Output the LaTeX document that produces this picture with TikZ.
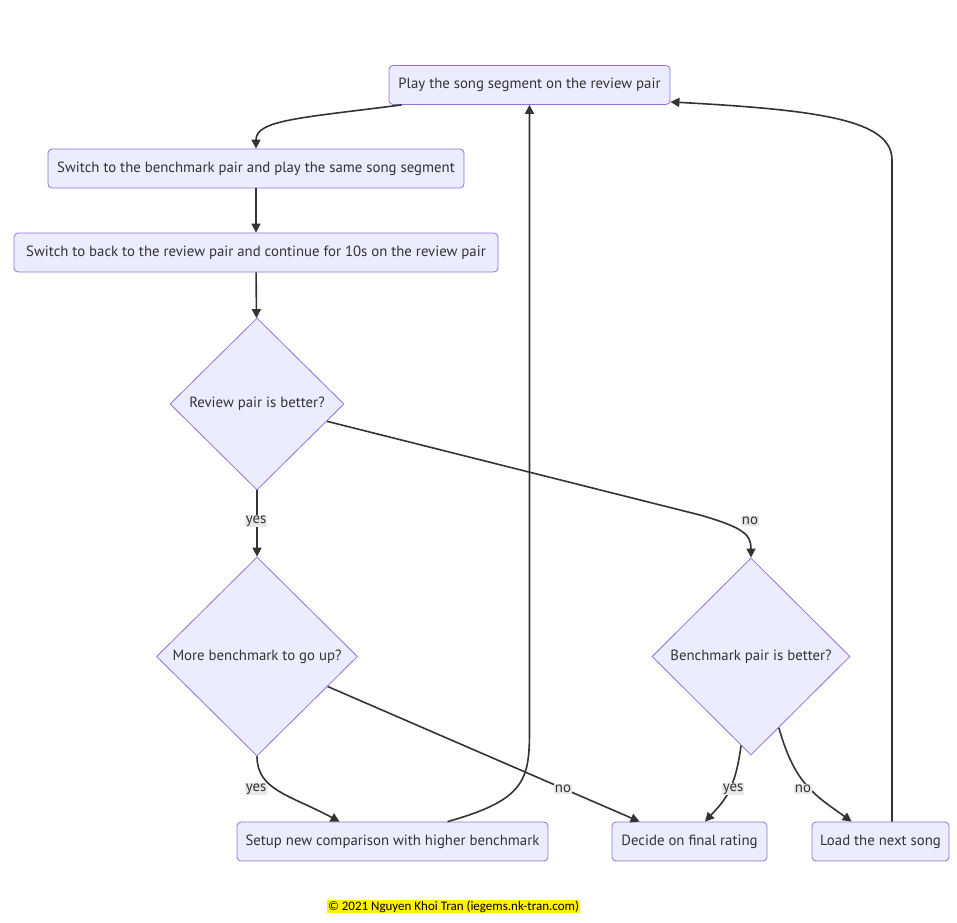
\documentclass[tikz,border=0pt]{standalone}
\usepackage{fontspec}
\setmainfont{PT Sans}
\newfontfamily\cfont{Carlito}
\usetikzlibrary{shapes.geometric,arrows.meta,calc}
\definecolor{mfill}{HTML}{ECECFF}
\definecolor{mline}{HTML}{9370DB}
\definecolor{edgec}{HTML}{333333}
\definecolor{lblbg}{HTML}{E8E8E8}
\definecolor{txt}{HTML}{333333}
\begin{document}
\begin{tikzpicture}[x=1pt,y=-1pt,
  every node/.style={font=\fontsize{14.8}{17}\selectfont, text=txt},
  box/.style={draw=mline, fill=mfill, line width=0.8pt, rounded corners=4pt, minimum height=39pt, inner sep=0pt},
  dia/.style={draw=mline, fill=mfill, line width=0.8pt, diamond, inner sep=0pt},
  arr/.style={draw=edgec, line width=1.6pt, -{Triangle[length=9pt,width=9pt]}},
  lbl/.style={fill=lblbg, inner sep=1pt}]
\useasboundingbox (0,0) rectangle (957,922);
\node[box, minimum width=281pt] (A) at (529.5,85) {Play the song segment on the review pair};
\node[box, minimum width=416pt] (B) at (256,168.5) {Switch to the benchmark pair and play the same song segment};
\node[box, minimum width=484pt] (C) at (256,252.5) {Switch to back to the review pair and continue for 10s on the review pair};
\node[dia, minimum width=174pt, minimum height=172pt] (D) at (257,404) {Review pair is better?};
\node[dia, minimum width=201pt, minimum height=199pt] (E) at (257,656.5) {More benchmark to go up?};
\node[dia, minimum width=198pt, minimum height=197pt] (F) at (751,656.5) {Benchmark pair is better?};
\node[box, minimum width=311pt] (G) at (392.5,841.5) {Setup new comparison with higher benchmark};
\node[box, minimum width=155pt] (H) at (689.5,841.5) {Decide on final rating};
\node[box, minimum width=137pt] (I) at (880.5,841.5) {Load the next song};
% edges
\draw[arr] ([xshift=13pt]A.south west) .. controls (300,118) and (256,120) .. (B.north);
\draw[arr] (B) -- (C);
\draw[arr] (C) -- (D);
\draw[arr] (D) -- (E);
\draw[arr] ($(D.east)!0.2!(D.south)$) -- (700,515) .. controls (745,528) and (751,535) .. (F.north);
\draw[arr] (E.south) .. controls (257,790) and (290,795) .. ([xshift=103pt]G.north west);
\draw[arr] ($(E.east)!0.3!(E.south)$) -- ([xshift=28pt]H.north west);
\draw[arr] ($(F.south)!0.1!(F.west)$) .. controls (735,790) and (725,800) .. ([xshift=15.5pt]H.north);
\draw[arr] ($(F.south)!0.28!(F.east)$) .. controls (795,785) and (815,795) .. ([xshift=40pt]I.north west);
\draw[arr] ([xshift=55pt]G.north) .. controls (525,800) and (529.5,780) .. (529.5,730) -- (A.south);
\draw[arr] ([xshift=11.5pt]I.north) -- (892,160) .. controls (892,120) and (820,110) .. ([yshift=3pt]A.south east);
% labels
\node[lbl] (l1) at (256,521) {yes};
\node[lbl] (l2) at (750,521) {no};
\node[lbl] (l3) at (256,789) {yes};
\node[lbl] (l4) at (563,789) {no};
\node[lbl] (l5) at (733,789) {yes};
\node[lbl] (l6) at (803,789) {no};
\node[fill=yellow, inner sep=1pt, text=black, font=\cfont\fontsize{13}{15}\selectfont] (cp) at (453.5,906.5) {© 2021 Nguyen Khoi Tran (iegems.nk-tran.com)};
\end{tikzpicture}
\end{document}
